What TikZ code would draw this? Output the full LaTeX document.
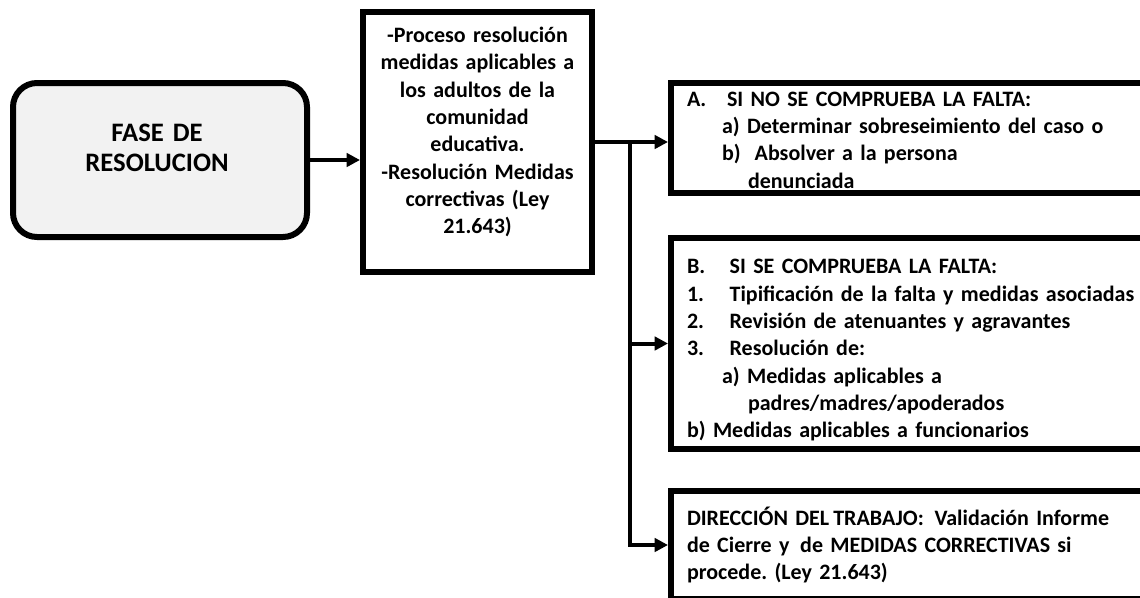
\documentclass[tikz,border=0pt]{standalone}
\usepackage{fontspec}
\setmainfont{Carlito}
\definecolor{faseGray}{HTML}{F2F2F2}
\usetikzlibrary{arrows.meta,positioning}

\begin{document}
\frenchspacing
\begin{tikzpicture}[x=0.75pt,y=-0.75pt,>={Triangle[length=10pt,width=10pt]},
  every node/.style={font=\bfseries\fontsize{16.5}{20.5}\selectfont},
  fasebox/.style={draw,line width=4.5pt,fill=faseGray,rounded corners=18pt,
    minimum width=220.5pt,minimum height=115.5pt},
  procbox/.style={draw,line width=4.5pt,minimum width=171.75pt,minimum height=195pt},
  casebox/.style={draw,line width=4.5pt,anchor=west,align=left,text width=400pt,
    inner xsep=12pt},
  link/.style={line width=3pt}]
  \useasboundingbox (0,0) rectangle (1140,597);
  \clip (0,0) rectangle (1140,597);
  % left phase box
  \node[fasebox] (fase) at (160,160) {};
  \node[align=center,text width=200pt,font=\bfseries\fontsize{20}{22.5}\selectfont] (fasetxt) at (157,148) {FASE DE\\RESOLUCION};
  % process box
  \node[procbox] (proc) at (477.5,142) {};
  \node[align=center,text width=165pt] (proctxt) at (477.5,132) {-Proceso resolución\\medidas aplicables a\\los adultos de la\\comunidad\\educativa.\\-Resolución Medidas\\correctivas (Ley\\21.643)};
  % outcome boxes
  \node[casebox,minimum height=79.5pt] (boxA) at (668,138) {%
    \rule{0pt}{14pt}\makebox[30pt][l]{A.}SI NO SE COMPRUEBA LA FALTA:\\
    \hspace*{26.25pt}a) Determinar sobreseimiento del caso o\\
    \hspace*{26.25pt}b)\hspace{5pt} Absolver a la persona\\
    \hspace*{45.75pt}denunciada};
  \node[casebox,minimum height=158.25pt] (boxB) at (668,343.5) {%
    \rule{0pt}{21pt}\makebox[32pt][l]{B.}SI SE COMPRUEBA LA FALTA:\\
    \makebox[32pt][l]{1.}Tipificación de la falta y medidas asociadas\\
    \makebox[32pt][l]{2.}Revisión de atenuantes y agravantes\\
    \makebox[32pt][l]{3.}Resolución de:\\
    \hspace*{26.25pt}a) Medidas aplicables a\\
    \hspace*{45.75pt}padres/madres/apoderados\\
    b) Medidas aplicables a funcionarios};
  \node[casebox,minimum height=81pt] (boxC) at (668,545) {%
    DIRECCIÓN DEL\hspace{3pt}TRABAJO:\hspace{8pt}Validación Informe\\
    de Cierre y\hspace{8pt}de MEDIDAS CORRECTIVAS si\\
    procede. (Ley 21.643)};
  % connectors
  \coordinate (split) at (630,142);
  \draw[link,->] (fase.east) -- (fase.east -| proc.west);
  \draw[link,->] (proc.east) -- (proc.east -| boxA.west);
  \draw[link,->] (split) |- (boxB.west);
  \draw[link,->] (split) |- (boxC.west);
\end{tikzpicture}
\end{document}
